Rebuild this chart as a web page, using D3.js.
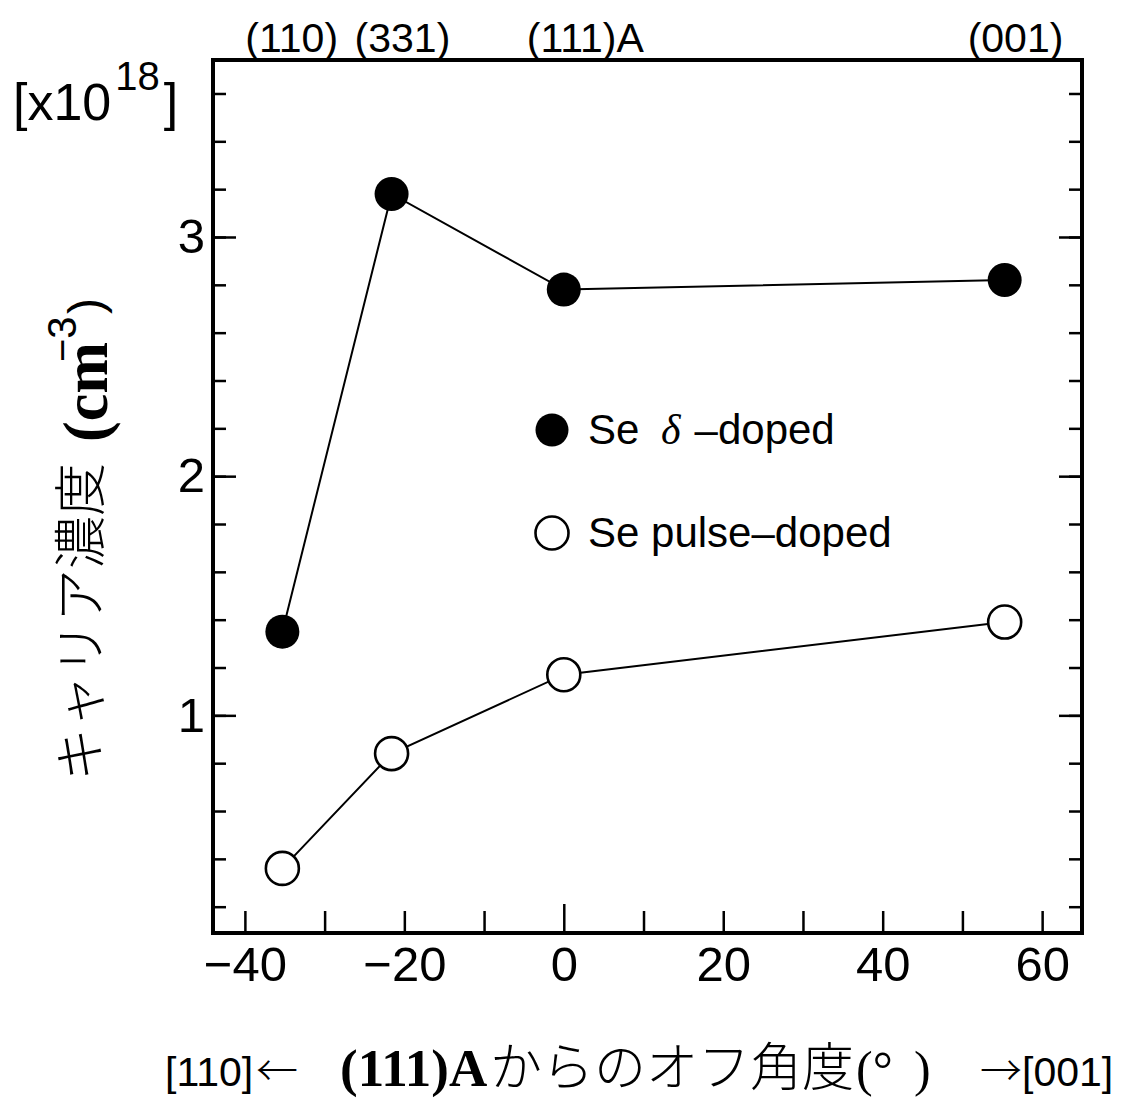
<!DOCTYPE html>
<html>
<head>
<meta charset="utf-8">
<script src="https://cdn.jsdelivr.net/npm/d3@7"></script>
<style>
  body { margin: 0; background: #fff; }
  text { fill: #000; }
</style>
</head>
<body>
<svg id="svg" width="1131" height="1104"></svg>
<script>
// off-angle from (111)A, degrees
const angles = [-35.3, -21.6, 0, 55.3]
const deltaDoped = [1.35, 3.18, 2.78, 2.82]
const pulseDoped = [0.36, 0.84, 1.17, 1.39]
const planeLabels = ['(110)', '(331)', '(111)A', '(001)']
const seriesNames = ['Se δ–doped', 'Se pulse–doped']

const xTicks = [-40, -30, -20, -10, 0, 10, 20, 30, 40, 50, 60]
const xTickLabels = [-40, -20, 0, 20, 40, 60]
const yMajor = [1, 2, 3]
const yMinor = d3.range(1, 19).map(i => +(i * 0.2).toFixed(1))

const SANS = '"Liberation Sans", Arial, Helvetica, sans-serif'
const SERIF = '"Liberation Serif", "Times New Roman", serif'
const CJK = '"Noto Sans CJK JP", sans-serif'

const LEFT = 213, RIGHT = 1082, TOP = 60, BOTTOM = 933

const x = d3.scaleLinear().domain([-44, 65]).range([LEFT, RIGHT])
const y = d3.scaleLinear().domain([0.09, 3.74]).range([BOTTOM, TOP])

const SVG = d3.select('#svg')

// bottom axis, ticks pointing in
const xAxis = SVG.append('g')
  .attr('transform', `translate(0, ${BOTTOM})`)
  .call(d3.axisBottom(x)
    .tickValues(xTicks)
    .tickSizeInner(-22)
    .tickSizeOuter(0)
    .tickPadding(13)
    .tickFormat(d => xTickLabels.includes(d) ? d3.format('')(d).replace('-', '−') : ''))
// the 0 tick (111)A is drawn a bit longer
xAxis.selectAll('.tick line').filter(d => d === 0).attr('y2', -29)

// left axis: minor then major
SVG.append('g')
  .attr('transform', `translate(${LEFT}, 0)`)
  .call(d3.axisLeft(y).tickValues(yMinor).tickSizeInner(-13).tickSizeOuter(0).tickFormat(''))
const yAxis = SVG.append('g')
  .attr('transform', `translate(${LEFT}, 0)`)
  .call(d3.axisLeft(y).tickValues(yMajor).tickSizeInner(-23).tickSizeOuter(0).tickPadding(8).tickFormat(d3.format('d')))

// right axis mirrors left
SVG.append('g')
  .attr('transform', `translate(${RIGHT}, 0)`)
  .call(d3.axisRight(y).tickValues(yMinor).tickSizeInner(-13).tickSizeOuter(0).tickFormat(''))
SVG.append('g')
  .attr('transform', `translate(${RIGHT}, 0)`)
  .call(d3.axisRight(y).tickValues(yMajor).tickSizeInner(-23).tickSizeOuter(0).tickFormat(''))

SVG.selectAll('.domain').remove()
SVG.selectAll('.tick line').attr('stroke', '#000').attr('stroke-width', 2.5)
SVG.selectAll('.tick text')
  .attr('font-family', SANS)
  .attr('font-size', 49)
  .attr('fill', '#000')

// frame
SVG.append('rect')
  .attr('x', LEFT).attr('y', TOP)
  .attr('width', RIGHT - LEFT).attr('height', BOTTOM - TOP)
  .attr('fill', 'none')
  .attr('stroke', '#000')
  .attr('stroke-width', 4)

// plane labels above the frame
SVG.selectAll('.plane')
  .data(planeLabels)
  .enter()
  .append('text')
  .attr('class', 'plane')
  .attr('x', (d, i) => x(angles[i]) - 37)
  .attr('y', 52)
  .attr('font-family', SANS)
  .attr('font-size', 41)
  .text(d => d)

// lines
const line = d3.line()
  .x((d, i) => x(angles[i]))
  .y(d => y(d))

SVG.append('path')
  .datum(deltaDoped)
  .attr('d', line)
  .attr('fill', 'none')
  .attr('stroke', '#000')
  .attr('stroke-width', 2)

SVG.append('path')
  .datum(pulseDoped)
  .attr('d', line)
  .attr('fill', 'none')
  .attr('stroke', '#000')
  .attr('stroke-width', 2)

// markers
SVG.selectAll('.filled')
  .data(deltaDoped)
  .enter()
  .append('circle')
  .attr('class', 'filled')
  .attr('cx', (d, i) => x(angles[i]))
  .attr('cy', d => y(d))
  .attr('r', 17)
  .attr('fill', '#000')

SVG.selectAll('.open')
  .data(pulseDoped)
  .enter()
  .append('circle')
  .attr('class', 'open')
  .attr('cx', (d, i) => x(angles[i]))
  .attr('cy', d => y(d))
  .attr('r', 16.5)
  .attr('fill', '#fff')
  .attr('stroke', '#000')
  .attr('stroke-width', 2.6)

// legend
const LEGEND = SVG.append('g')
const legendRows = LEGEND.selectAll('g')
  .data(seriesNames)
  .enter()
  .append('g')
  .attr('transform', (d, i) => `translate(552, ${430 + i * 103})`)

legendRows.append('circle')
  .attr('r', 16.5)
  .attr('fill', (d, i) => i === 0 ? '#000' : '#fff')
  .attr('stroke', '#000')
  .attr('stroke-width', (d, i) => i === 0 ? 0 : 2.6)

legendRows.each(function (d) {
  const t = d3.select(this).append('text')
    .attr('x', 36)
    .attr('y', 14)
    .attr('font-family', SANS)
    .attr('font-size', 42)
  const parts = d.split('δ')
  t.append('tspan').text(parts[0])
  if (parts.length > 1) {
    t.append('tspan').attr('font-family', SERIF).attr('font-style', 'italic').attr('dx', 10).text('δ')
    t.append('tspan').attr('dx', 14).text(parts[1])
  }
})

// unit label
const unit = SVG.append('text')
  .attr('x', 13)
  .attr('y', 120)
  .attr('font-family', SANS)
  .attr('font-size', 52)
unit.append('tspan').text('[x10')
unit.append('tspan').attr('font-size', 40).attr('dy', -30).attr('dx', 4).text('18')
unit.append('tspan').attr('dy', 30).attr('dx', 4).text(']')

// y-axis title (rotated)
const YT = SVG.append('g').attr('transform', 'translate(100, 0) rotate(-90)')
YT.append('text')
  .attr('x', -781).attr('y', 0)
  .attr('font-family', CJK)
  .attr('font-size', 53)
  .attr('font-weight', 300)
  .text('キャリア濃度')
YT.append('text')
  .attr('x', -442).attr('y', 7)
  .attr('font-family', SERIF)
  .attr('font-weight', 'bold')
  .attr('font-size', 64)
  .attr('textLength', 100)
  .attr('lengthAdjust', 'spacingAndGlyphs')
  .text('(cm')
YT.append('text')
  .attr('x', -362).attr('y', -24)
  .attr('font-family', SANS)
  .attr('font-size', 40)
  .text('−3')
YT.append('text')
  .attr('x', -314).attr('y', 2)
  .attr('font-family', SANS)
  .attr('font-size', 48)
  .text(')')

// x-axis title
const XT = SVG.append('text').attr('y', 1086)
XT.append('tspan').attr('x', 165).attr('font-family', SANS).attr('font-size', 41).text('[110]')
XT.append('tspan').attr('x', 256).attr('font-family', CJK).attr('font-weight', 300).attr('font-size', 42).text('←')
XT.append('tspan').attr('x', 340).attr('font-family', SERIF).attr('font-weight', 'bold').attr('font-size', 53).text('(111)A')
XT.append('tspan').attr('x', 490).attr('font-family', CJK).attr('font-weight', 300).attr('font-size', 52).text('からのオフ角度')
XT.append('tspan').attr('x', 856).attr('font-family', SERIF).attr('font-size', 50).text('(°')
XT.append('tspan').attr('x', 914).attr('font-family', SERIF).attr('font-size', 50).text(')')
XT.append('tspan').attr('x', 980).attr('font-family', CJK).attr('font-weight', 300).attr('font-size', 42).text('→')
XT.append('tspan').attr('x', 1022).attr('font-family', SANS).attr('font-size', 41).text('[001]')
</script>
</body>
</html>
